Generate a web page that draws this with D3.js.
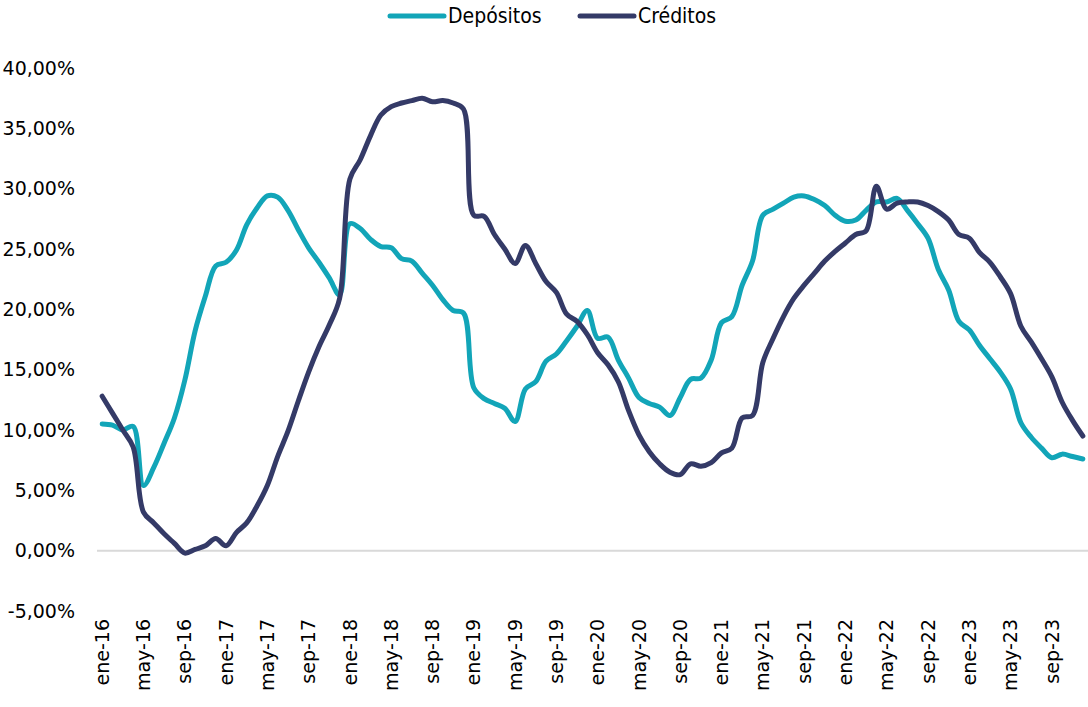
<!DOCTYPE html>
<html>
<head>
<meta charset="utf-8">
<script src="https://cdn.jsdelivr.net/npm/d3@7"></script>
<style>
  body { margin: 0; background: #fff; }
  .tick-label { font-family: "DejaVu Sans", Verdana, sans-serif; font-size: 19px; fill: #000; }
  .legend-label { font-family: "DejaVu Sans Condensed", "Liberation Sans Narrow", "DejaVu Sans", sans-serif; font-stretch: condensed; font-size: 21px; fill: #000; }
</style>
</head>
<body>
<div id="chart"></div>
<script>
// chart data (monthly, ene-16 .. dic-23), values in %
var monthNames = ["ene", "feb", "mar", "abr", "may", "jun", "jul", "ago", "sep", "oct", "nov", "dic"];
var years = ["16", "17", "18", "19", "20", "21", "22", "23"];

var depositos = [
  10.5, 10.4, 10.0, 10.3, 5.4, 6.9, 8.9, 11.0, 14.1, 18.2, 21.1, 23.6,
  23.9, 24.9, 27.0, 28.4, 29.4, 29.3, 28.2, 26.6, 25.1, 23.9, 22.6, 21.2,
  27.1, 26.7, 25.8, 25.2, 25.1, 24.2, 24.0, 23.0, 22.0, 20.8, 19.9, 19.7,
  13.5, 12.6, 12.2, 11.8, 10.7, 13.4, 14.0, 15.7, 16.3, 17.4, 18.6, 19.9,
  17.6, 17.7, 15.8, 14.3, 12.7, 12.2, 11.9, 11.2, 12.7, 14.2, 14.3, 15.8,
  18.9, 19.4, 22.0, 24.0, 27.8, 28.3, 28.8, 29.3, 29.4, 29.1, 28.6, 27.8,
  27.3, 27.4, 28.2, 28.9, 28.9, 29.2, 28.2, 27.1, 25.9, 23.3, 21.6, 19.0,
  18.3, 17.0, 15.9, 14.8, 13.4, 10.6, 9.4, 8.5, 7.7, 8.0, 7.8, 7.6
];

var creditos = [
  12.8, 11.4, 10.0, 8.6, 3.2, 2.3, 1.4, 0.6, -0.2, 0.1, 0.4, 1.0,
  0.4, 1.5, 2.3, 3.7, 5.4, 7.8, 9.9, 12.4, 14.8, 16.9, 18.7, 20.9,
  30.8, 32.4, 34.4, 36.1, 36.8, 37.1, 37.3, 37.5, 37.2, 37.3, 37.1, 36.6,
  27.8, 27.7, 26.2, 25.0, 23.8, 25.3, 23.8, 22.3, 21.4, 19.6, 19.0, 17.9,
  16.4, 15.4, 14.0, 11.6, 9.6, 8.2, 7.2, 6.5, 6.3, 7.2, 7.0, 7.3,
  8.1, 8.5, 11.0, 11.2, 15.6, 17.6, 19.4, 20.9, 22.0, 23.0, 24.0, 24.8,
  25.5, 26.2, 26.5, 30.2, 28.3, 28.8, 28.9, 28.9, 28.6, 28.1, 27.4, 26.2,
  25.9, 24.7, 23.9, 22.7, 21.3, 18.6, 17.3, 15.9, 14.4, 12.3, 10.8, 9.5
];

var yTicks = [-5, 0, 5, 10, 15, 20, 25, 30, 35, 40];

var series = [
  { name: "Depósitos", values: depositos, color: "#12A5B8" },
  { name: "Créditos", values: creditos, color: "#343A67" }
];

// category labels "ene-16", "feb-16", ...
var months = [];
years.forEach(function(y) {
  monthNames.forEach(function(m) { months.push(m + "-" + y); });
});

var svgWidth = 1088;
var svgHeight = 707;

var plot = { left: 97, right: 1088, top: 68, bottom: 611 };

var svg = d3.select("#chart")
  .append("svg")
  .attr("width", svgWidth)
  .attr("height", svgHeight);

var x = d3.scaleBand()
  .domain(months)
  .range([plot.left, plot.right]);

var y = d3.scaleLinear()
  .domain([-5, 40])
  .range([plot.bottom, plot.top]);

function xc(i) { return x(months[i]) + x.bandwidth() / 2; }

function fmtPct(v) {
  return v.toFixed(2).replace(".", ",") + "%";
}

// zero gridline
svg.append("line")
  .attr("x1", plot.left)
  .attr("x2", plot.right)
  .attr("y1", y(0))
  .attr("y2", y(0))
  .attr("stroke", "#d9d9d9")
  .attr("stroke-width", 2);

// y axis labels
var yAxis = d3.axisLeft(y)
  .tickValues(yTicks)
  .tickSize(0)
  .tickPadding(0)
  .tickFormat(fmtPct);

var yG = svg.append("g")
  .attr("transform", "translate(75,0)")
  .call(yAxis);
yG.select(".domain").remove();
yG.selectAll("text")
  .attr("class", "tick-label")
  .attr("font-family", null)
  .attr("font-size", null);

// x axis labels (every 4 months), rotated
var xAxis = d3.axisBottom(x)
  .tickValues(months.filter(function(d, i) { return i % 4 === 0; }))
  .tickSize(0)
  .tickPadding(0);

var xG = svg.append("g")
  .attr("transform", "translate(0,619)")
  .call(xAxis);
xG.select(".domain").remove();
xG.selectAll("text")
  .attr("class", "tick-label")
  .attr("font-family", null)
  .attr("font-size", null)
  .attr("text-anchor", "end")
  .attr("transform", "rotate(-90)")
  .attr("x", 0)
  .attr("y", 0)
  .attr("dy", "0.35em");

// lines (smoothed like the original)
var line = d3.line()
  .x(function(d, i) { return xc(i); })
  .y(function(d) { return y(d); })
  .curve(d3.curveCatmullRom.alpha(0.5));

svg.selectAll(".series")
  .data(series)
  .enter()
  .append("path")
  .attr("class", "series")
  .attr("d", function(s) { return line(s.values); })
  .attr("fill", "none")
  .attr("stroke", function(s) { return s.color; })
  .attr("stroke-width", 5)
  .attr("stroke-linejoin", "round")
  .attr("stroke-linecap", "round");

// legend
var legendPos = [388, 578];
var legend = svg.selectAll(".legend")
  .data(series)
  .enter()
  .append("g")
  .attr("class", "legend")
  .attr("transform", function(d, i) { return "translate(" + legendPos[i] + ",16)"; });

legend.append("line")
  .attr("x1", 2)
  .attr("x2", 56)
  .attr("stroke", function(d) { return d.color; })
  .attr("stroke-width", 5)
  .attr("stroke-linecap", "round");

legend.append("text")
  .attr("class", "legend-label")
  .attr("x", 60)
  .attr("dy", "0.35em")
  .text(function(d) { return d.name; });
</script>
</body>
</html>
